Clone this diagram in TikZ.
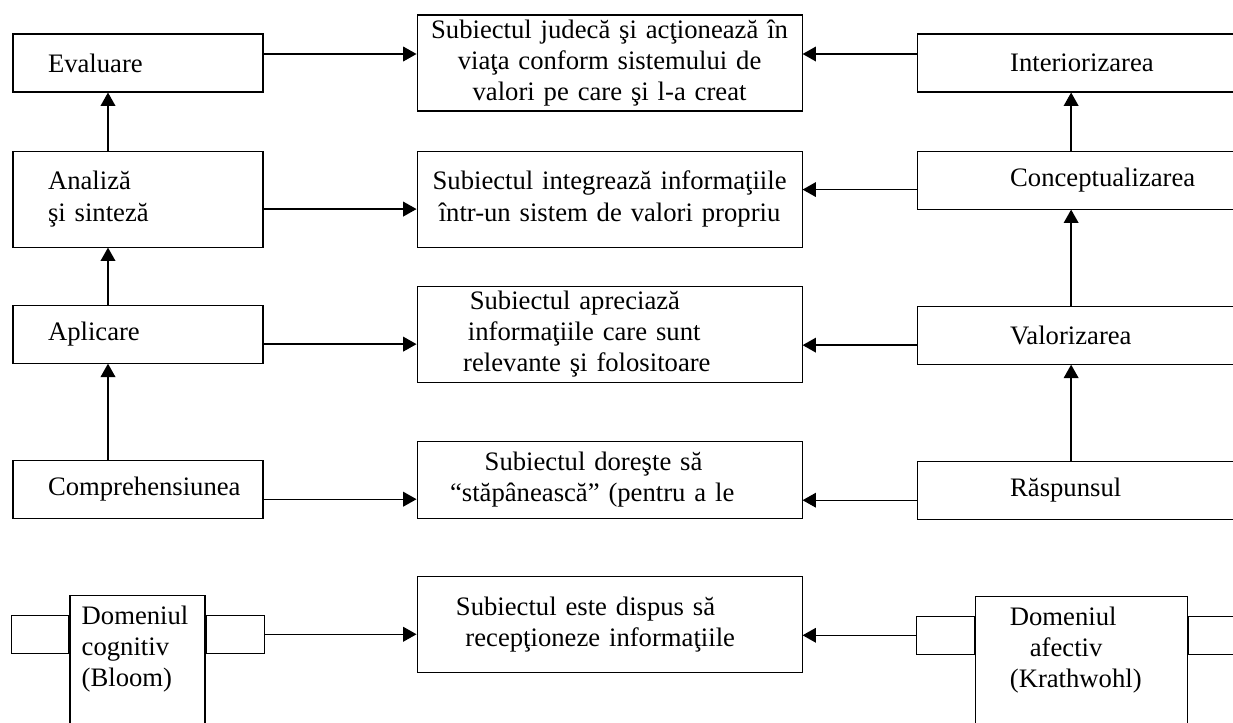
\documentclass[tikz,border=0pt]{standalone}
\usepackage{fontspec}
\setmainfont{Liberation Serif}
\usepackage{tikz}
\usetikzlibrary{arrows.meta,positioning}
\tikzset{
    levelbox/.style={
        draw,
        line width=0.8pt,
        align=left,
        font=\fontsize{20pt}{23.5pt}\selectfont,
        text width=135pt,
        inner xsep=26.25pt,
        inner ysep=0pt,
        minimum height=43.5pt
    },
    subjbox/.style={
        draw,
        line width=0.8pt,
        align=center,
        font=\fontsize{20pt}{23.5pt}\selectfont,
        text width=270pt,
        inner xsep=9.375pt,
        inner ysep=0pt,
        minimum height=72pt
    },
    affbox/.style={
        draw,
        line width=0.8pt,
        align=left,
        font=\fontsize{20pt}{23.5pt}\selectfont,
        text width=149.25pt,
        inner xsep=69.75pt,
        inner ysep=0pt,
        minimum height=43.5pt
    },
    domainbox/.style={
        draw,
        line width=0.8pt,
        inner sep=0pt,
        minimum height=127.5pt
    },
    tabbox/.style={
        draw,
        line width=0.8pt,
        inner sep=0pt,
        minimum height=28.5pt
    },
    domaintext/.style={
        align=left,
        inner sep=0pt,
        font=\fontsize{20pt}{23.5pt}\selectfont
    },
    flow/.style={
        -{Triangle[length=10pt,width=11pt]},
        line width=1pt
    }
}

\begin{document}
\begin{tikzpicture}
        \clip (0pt,0pt) rectangle (924.75pt,-541.5pt);

        \node[levelbox] (eval) at (103.5pt,-47.25pt) {Evaluare};
        \node[levelbox, below=43.5pt of eval, minimum height=72pt] (anal) {Analiză\\şi sinteză};
        \node[levelbox, below=42.75pt of anal] (apl) {Aplicare};
        \node[levelbox, below=72pt of apl] (compr) {Comprehensiunea};

        \node[domainbox, minimum width=101.25pt, below right=57pt and 42.75pt of compr.south west] (bloom) {};
        \node[tabbox, minimum width=42.75pt, below left=15pt and 0pt of bloom.north west] (bloomL) {};
        \node[tabbox, minimum width=43.5pt, below right=15pt and 0pt of bloom.north east] (bloomR) {};
        \node[domaintext, below right=8pt and 9pt of bloom.north west] (bloomtxt) {Domeniul\\cognitiv\\(Bloom)};

        \node[subjbox, right=114.75pt of eval] (jud) {Subiectul judecă şi acţionează în\\viaţa conform sistemului de\\valori pe care şi l-a creat};
        \node[subjbox, right=114.75pt of anal] (integ) {Subiectul integrează informaţiile\\într-un sistem de valori propriu};
        \node[subjbox, right=114.75pt of apl] (aprec) {Subiectul apreciază\kern52pt\\informaţiile care sunt\kern38pt\\relevante şi folositoare\kern34pt};
        \node[subjbox, below=43.5pt of aprec, minimum height=57.75pt] (dor) {Subiectul doreşte să\kern24pt\\“stăpânească” (pentru a le\kern26pt};
        \node[subjbox, below=42.75pt of dor] (disp) {Subiectul este dispus să\kern36pt\\recepţioneze informaţiile\kern14pt};

        \node[affbox, right=85.5pt of jud] (inter) {Interiorizarea};
        \node[affbox, below=43.5pt of inter] (concept) {Conceptualizarea};
        \node[affbox, below=72pt of concept] (valor) {Valorizarea};
        \node[affbox, below=72pt of valor] (rasp) {Răspunsul};

        \node[domainbox, minimum width=159pt, below right=57pt and 43.5pt of rasp.south west] (krath) {};
        \node[tabbox, minimum width=43.5pt, below left=15pt and 0pt of krath.north west] (krathL) {};
        \node[tabbox, minimum width=60pt, below right=15pt and 0pt of krath.north east] (krathR) {};
        \node[domaintext, below right=8pt and 26.25pt of krath.north west] (krathtxt) {Domeniul\\\hspace*{15pt}afectiv\\(Krathwohl)};

        \draw[flow] ([xshift=-22.5pt]anal.north) -- ([xshift=-22.5pt]eval.south);
        \draw[flow] ([xshift=-22.5pt]apl.north) -- ([xshift=-22.5pt]anal.south);
        \draw[flow] ([xshift=-22.5pt]compr.north) -- ([xshift=-22.5pt]apl.south);

        \draw[flow] ([xshift=-28.875pt]concept.north) -- ([xshift=-28.875pt]inter.south);
        \draw[flow] ([xshift=-28.875pt]valor.north) -- ([xshift=-28.875pt]concept.south);
        \draw[flow] ([xshift=-28.875pt]rasp.north) -- ([xshift=-28.875pt]valor.south);

        \draw[flow] ([yshift=6.75pt]eval.east) -- ([yshift=6.75pt]eval.east -| jud.west);
        \draw[flow] ([yshift=-7.5pt]anal.east) -- ([yshift=-7.5pt]anal.east -| integ.west);
        \draw[flow] ([yshift=-7.5pt]apl.east) -- ([yshift=-7.5pt]apl.east -| aprec.west);
        \draw[flow] ([yshift=-7.5pt]compr.east) -- ([yshift=-7.5pt]compr.east -| dor.west);
        \draw[flow] (bloomR.east) -- (bloomR.east -| disp.west);

        \draw[flow] ([yshift=6.75pt]inter.west) -- ([yshift=6.75pt]inter.west -| jud.east);
        \draw[flow] ([yshift=-7.125pt]concept.west) -- ([yshift=-7.125pt]concept.west -| integ.east);
        \draw[flow] ([yshift=-7.5pt]valor.west) -- ([yshift=-7.5pt]valor.west -| aprec.east);
        \draw[flow] ([yshift=-7.5pt]rasp.west) -- ([yshift=-7.5pt]rasp.west -| dor.east);
        \draw[flow] (krathL.west) -- (krathL.west -| disp.east);
    \end{tikzpicture}
\end{document}
